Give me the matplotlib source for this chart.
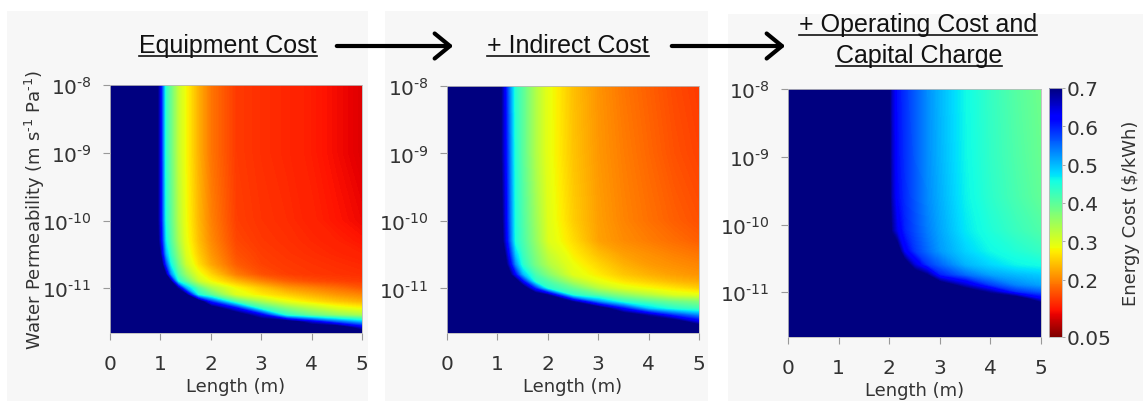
import numpy as np
import matplotlib
matplotlib.use('Agg')
import matplotlib.pyplot as plt
from matplotlib.colors import Normalize
from matplotlib.cm import ScalarMappable
from matplotlib.patches import FancyArrowPatch, Rectangle
from matplotlib.lines import Line2D

plt.rcParams['font.family'] = 'DejaVu Sans'
plt.rcParams['mathtext.fontset'] = 'dejavusans'

# rows: log10 of water permeability, columns: length (m)
# values in $/kWh, anything above 0.7 saturates to the dark end of the scale
log_perm = [-8, -9, -10, -10.3, -10.5, -10.65, -10.8, -10.9, -11.0, -11.1,
            -11.2, -11.3, -11.4, -11.5, -11.58, -11.66]
length = [0, 0.9, 1.0, 1.1, 1.2, 1.35, 1.5, 1.75, 2.0, 2.5, 3.0, 3.5, 4.0, 4.5, 5.0]

equipment_cost = [
    [.75, .75, .63, .44, .39, .32, .28, .23, .19, .15, .142, .136, .127, .115, .103],
    [.75, .75, .63, .44, .39, .32, .28, .23, .19, .15, .142, .136, .127, .115, .103],
    [.75, .75, .63, .45, .40, .33, .285, .235, .198, .153, .145, .14, .132, .122, .112],
    [.75, .75, .65, .47, .41, .34, .29, .24, .204, .158, .148, .143, .137, .13, .122],
    [.75, .75, .69, .51, .43, .36, .30, .25, .213, .165, .152, .146, .141, .136, .13],
    [.75, .75, .75, .58, .46, .38, .315, .262, .223, .173, .155, .149, .145, .141, .137],
    [.75, .75, .75, .70, .53, .41, .355, .29, .255, .195, .165, .153, .148, .145, .142],
    [.75, .75, .75, .75, .70, .45, .40, .317, .28, .235, .20, .175, .162, .155, .15],
    [.75, .75, .75, .75, .75, .68, .51, .40, .34, .28, .245, .215, .20, .185, .17],
    [.75, .75, .75, .75, .75, .75, .72, .45, .40, .30, .27, .25, .23, .212, .20],
    [.75, .75, .75, .75, .75, .75, .75, .75, .59, .41, .34, .29, .265, .245, .23],
    [.75, .75, .75, .75, .75, .75, .75, .75, .75, .62, .43, .37, .33, .298, .28],
    [.75, .75, .75, .75, .75, .75, .75, .75, .75, .75, .64, .44, .39, .36, .34],
    [.75, .75, .75, .75, .75, .75, .75, .75, .75, .75, .75, .75, .65, .56, .50],
    [.75, .75, .75, .75, .75, .75, .75, .75, .75, .75, .75, .75, .75, .75, .64],
    [.75, .75, .75, .75, .75, .75, .75, .75, .75, .75, .75, .75, .75, .75, .75],
]

indirect_cost = [
    [.75, .75, .75, .67, .57, .44, .40, .335, .29, .24, .21, .19, .175, .16, .15],
    [.75, .75, .75, .67, .58, .445, .40, .335, .29, .243, .213, .195, .18, .165, .155],
    [.75, .75, .75, .69, .59, .45, .41, .35, .297, .25, .218, .20, .187, .175, .165],
    [.75, .75, .75, .70, .60, .45, .415, .357, .30, .26, .22, .205, .195, .185, .175],
    [.75, .75, .75, .75, .64, .49, .426, .37, .32, .273, .24, .218, .208, .198, .19],
    [.75, .75, .75, .75, .68, .53, .44, .38, .335, .285, .255, .23, .215, .207, .20],
    [.75, .75, .75, .75, .75, .62, .50, .415, .37, .296, .27, .245, .23, .218, .21],
    [.75, .75, .75, .75, .75, .75, .62, .44, .41, .335, .29, .265, .25, .235, .225],
    [.75, .75, .75, .75, .75, .75, .75, .59, .44, .39, .33, .295, .28, .265, .25],
    [.75, .75, .75, .75, .75, .75, .75, .75, .69, .44, .40, .36, .33, .30, .29],
    [.75, .75, .75, .75, .75, .75, .75, .75, .75, .69, .53, .44, .41, .385, .37],
    [.75, .75, .75, .75, .75, .75, .75, .75, .75, .75, .75, .61, .49, .44, .42],
    [.75, .75, .75, .75, .75, .75, .75, .75, .75, .75, .75, .75, .68, .59, .53],
    [.75, .75, .75, .75, .75, .75, .75, .75, .75, .75, .75, .75, .75, .75, .64],
    [.75, .75, .75, .75, .75, .75, .75, .75, .75, .75, .75, .75, .75, .75, .75],
    [.75, .75, .75, .75, .75, .75, .75, .75, .75, .75, .75, .75, .75, .75, .75],
]

log_perm_op = [-8, -9, -9.6, -10.1, -10.4, -10.6, -10.75, -10.9, -11.0, -11.1, -11.2, -11.66]
length_op = [0, 1.0, 1.95, 2.05, 2.15, 2.3, 2.5, 2.75, 3.0, 3.5, 4.0, 4.5, 5.0]

operating_cost = [
    [.75, .75, .75, .66, .61, .587, .56, .527, .502, .46, .43, .405, .385],
    [.75, .75, .75, .665, .612, .588, .561, .528, .504, .462, .433, .41, .39],
    [.75, .75, .75, .67, .615, .59, .563, .53, .507, .465, .437, .415, .395],
    [.75, .75, .75, .69, .64, .597, .57, .538, .513, .472, .447, .427, .41],
    [.75, .75, .75, .75, .75, .63, .583, .55, .52, .485, .46, .445, .43],
    [.75, .75, .75, .75, .75, .75, .65, .583, .554, .504, .482, .463, .455],
    [.75, .75, .75, .75, .75, .75, .75, .70, .60, .55, .515, .50, .49],
    [.75, .75, .75, .75, .75, .75, .75, .75, .75, .66, .58, .535, .515],
    [.75, .75, .75, .75, .75, .75, .75, .75, .75, .75, .68, .59, .56],
    [.75, .75, .75, .75, .75, .75, .75, .75, .75, .75, .75, .75, .63],
    [.75, .75, .75, .75, .75, .75, .75, .75, .75, .75, .75, .75, .75],
    [.75, .75, .75, .75, .75, .75, .75, .75, .75, .75, .75, .75, .75],
]

titles = ['Equipment Cost', '+ Indirect Cost']
title3 = ['+ Operating Cost and', 'Capital Charge']
perm_ticks = [-8, -9, -10, -11]
cbar_ticks = [0.05, 0.2, 0.3, 0.4, 0.5, 0.6, 0.7]

HY = '\u2010'  # short hyphen used as the exponent sign

W, H = 1143, 402
fig = plt.figure(figsize=(W / 100, H / 100), dpi=100)


def px_axes(x0, y0, x1, y1):
    return fig.add_axes([x0 / W, 1 - y1 / H, (x1 - x0) / W, (y1 - y0) / H])


def fy(y):
    return 1 - y / H


# light grey panel backgrounds
for x0, x1, y0 in [(7, 368, 12), (385, 708, 12), (728, 1143, 15)]:
    fig.add_artist(Rectangle((x0 / W, 0), (x1 - x0) / W, fy(y0), transform=fig.transFigure,
                             facecolor='#f7f7f7', edgecolor='none', zorder=-10))

cmap = plt.get_cmap('jet_r')
norm = Normalize(0.05, 0.7)
levels = np.linspace(0.05, 0.7, 261)
tick_fs = 14.5
label_fs = 13


def panel(ax, L, a, Z):
    ax.contourf(L, a, np.array(Z), levels=levels, cmap=cmap, norm=norm,
                extend='both', antialiased=False)
    ax.set_xlim(0, 5)
    ax.set_ylim(log_perm[-1], -8)
    ax.set_xticks(range(6))
    ax.set_yticks(perm_ticks)
    ax.set_yticklabels([r'$10^{%s%d}$' % (HY, -t) for t in perm_ticks])
    ax.tick_params(direction='out', length=5, width=0.8, color='#999999',
                   labelsize=tick_fs, labelcolor='#333333')
    ax.tick_params(axis='x', pad=10)
    ax.tick_params(axis='y', pad=8)
    for s in ax.spines.values():
        s.set_color('#bbbbbb')
        s.set_linewidth(0.6)
    ax.set_xlabel('Length (m)', fontsize=label_fs, color='#333333', labelpad=3)


ax1 = px_axes(110, 86, 362, 334)
panel(ax1, length, log_perm, equipment_cost)
ax1.set_ylabel('Water Permeability (m s$^{%s1}$ Pa$^{%s1}$)' % (HY, HY), fontsize=label_fs,
               color='#333333')
ax1.yaxis.set_label_coords((47 - 110) / 252, 0.5)

ax2 = px_axes(447, 87, 699, 334)
panel(ax2, length, log_perm, indirect_cost)

ax3 = px_axes(788, 90, 1041, 338)
panel(ax3, length_op, log_perm_op, operating_cost)

cax = px_axes(1049, 89, 1062, 338)
cb = fig.colorbar(ScalarMappable(norm=norm, cmap=cmap), cax=cax, ticks=cbar_ticks)
cb.ax.set_yticklabels(['%g' % t for t in cbar_ticks])
cb.ax.tick_params(length=2, width=0.6, color='#999999', labelsize=tick_fs,
                  labelcolor='#333333', pad=1)
cb.outline.set_edgecolor('#bbbbbb')
cb.outline.set_linewidth(0.6)
cb.set_label(r'Energy Cost (\$/kWh)', fontsize=label_fs, color='#333333', labelpad=8)

# titles with underline
title_font = dict(family=['Liberation Sans', 'DejaVu Sans'], fontsize=18, color='#111111',
                  ha='center', va='baseline')
title_items = [
    fig.text(228 / W, fy(53), titles[0], **title_font),
    fig.text(568 / W, fy(53), titles[1], **title_font),
    fig.text(918 / W, fy(32), title3[0], **title_font),
    fig.text(919 / W, fy(63), title3[1], **title_font),
]
base_y = [53, 53, 32, 63]

fig.canvas.draw()
renderer = fig.canvas.get_renderer()
for t, by in zip(title_items, base_y):
    bb = t.get_window_extent(renderer)
    fig.add_artist(Line2D([bb.x0 / W, bb.x1 / W], [fy(by + 4)] * 2,
                          transform=fig.transFigure, color='#111111', lw=1.2))

# arrows between the panels
for x0, x1 in [(334, 456), (669, 788)]:
    fig.add_artist(FancyArrowPatch((x0 / W, fy(47)), (x1 / W, fy(47)),
                                   transform=fig.transFigure,
                                   arrowstyle='->,head_length=0.55,head_width=0.45',
                                   mutation_scale=20, lw=3, color='black'))

fig.savefig('out.png', dpi=100)
